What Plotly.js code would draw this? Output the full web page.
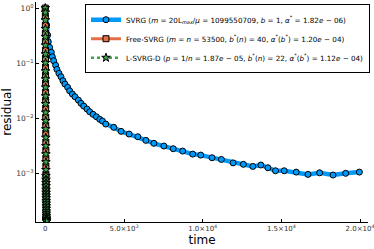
<!DOCTYPE html>
<html><head><meta charset="utf-8">
<script src="https://cdn.plot.ly/plotly-3.0.1.min.js"></script>
<style>html,body{margin:0;padding:0;background:#fff}#chart{width:374px;height:249px}</style>
</head><body><div id="chart"></div>
<script>
const svrgTime = [0, 83, 146, 191, 274, 382, 446, 529, 656, 739, 866, 994, 1121, 1248, 1420, 1548, 1720, 1885, 2102, 2268, 2439, 2650, 2822, 3032, 3248, 3459, 3631, 3841, 4350, 4815, 5325, 5879, 6389, 6898, 7535, 8127, 8726, 9363, 9873, 10592, 11185, 11930, 12586, 13185, 13694, 14140, 14624, 15178, 15943, 16688, 17427, 18280, 19083, 19955];
const svrgRes = [1, 0.491, 0.323, 0.244, 0.193, 0.157, 0.130, 0.110, 0.0908, 0.0768, 0.0650, 0.0564, 0.0477, 0.0415, 0.0362, 0.0313, 0.0273, 0.0244, 0.0212, 0.0185, 0.0165, 0.0146, 0.0130, 0.0117, 0.01056, 0.00947, 0.00882, 0.00778, 0.00678, 0.00573, 0.00512, 0.00457, 0.00393, 0.00347, 0.00310, 0.00277, 0.00251, 0.00221, 0.00212, 0.00190, 0.00177, 0.00153, 0.00144, 0.00132, 0.00140, 0.00125, 0.00110, 0.00110, 0.00104, 0.000946, 0.00101, 0.000920, 0.000988, 0.00104];

const freeTime = [0, 2, 4, 6, 8, 10, 12, 14, 16, 18, 20, 22, 24, 26, 28, 30, 32, 34, 36, 38, 40, 42, 44, 46, 48, 50, 52, 54, 56, 58, 60, 62, 64, 66, 68, 70, 72, 74, 76, 78, 80];
const freeRes = [1, 0.716, 0.491, 0.351, 0.251, 0.172, 0.123, 0.0846, 0.0605, 0.0433, 0.0297, 0.0212, 0.0152, 0.0104, 0.00746, 0.00534, 0.00366, 0.00262, 0.00187, 0.00134, 0.00096, 0.00082, 0.00071, 0.00062, 0.00054, 0.00047, 0.00042, 0.00037, 0.00033, 0.00029, 0.00026, 0.000235, 0.00021, 0.00019, 0.000175, 0.000162, 0.000152, 0.000145, 0.00014, 0.000136, 0.000134];

const lsvrgTime = [0, 2, 4, 6, 8, 10, 12, 14, 16, 18, 20, 22, 24, 26, 28, 30, 32, 34, 36, 38, 40, 42, 44, 46, 48, 50, 52, 54, 56, 58, 60, 62, 64, 66, 68, 70, 72, 74, 76, 78, 80];
const lsvrgRes = [1, 0.83, 0.60, 0.42, 0.30, 0.21, 0.145, 0.101, 0.071, 0.051, 0.036, 0.025, 0.018, 0.0126, 0.0089, 0.0063, 0.0044, 0.0031, 0.0022, 0.00158, 0.00114, 0.00089, 0.00076, 0.00066, 0.00058, 0.00050, 0.00044, 0.00039, 0.00035, 0.00031, 0.00028, 0.00025, 0.000225, 0.000202, 0.000184, 0.000168, 0.000156, 0.000147, 0.00014, 0.000135, 0.000132];

const seriesNames = [
  'SVRG (<i>m</i> = 20L<sub><i>max</i></sub>/<i>μ</i> = 1099550709, <i>b</i> = 1, <i>α</i><sup>*</sup> = 1.82<i>e</i> − 06)',
  'Free-SVRG (<i>m</i> = <i>n</i> = 53500, <i>b</i><sup>*</sup>(<i>n</i>) = 40, <i>α</i><sup>*</sup>(<i>b</i><sup>*</sup>) = 1.20<i>e</i> − 04)',
  'L-SVRG-D (<i>p</i> = 1/<i>n</i> = 1.87<i>e</i> − 05, <i>b</i><sup>*</sup>(<i>n</i>) = 22, <i>α</i><sup>*</sup>(<i>b</i><sup>*</sup>) = 1.12<i>e</i> − 04)'
];

const xTickVals = [0, 5000, 10000, 15000, 20000];
const xTickText = ['0', '5.0×10<sup>3</sup>', '1.0×10<sup>4</sup>', '1.5×10<sup>4</sup>', '2.0×10<sup>4</sup>'];
const yTickVals = [1, 0.1, 0.01, 0.001];
const yTickText = ['10<sup>0</sup>', '10<sup>−1</sup>', '10<sup>−2</sup>', '10<sup>−3</sup>'];

const traces = [
  {x: svrgTime, y: svrgRes, name: seriesNames[0], mode: 'lines+markers', type: 'scatter',
   line: {color: 'rgb(0,154,250)', width: 4.5},
   marker: {symbol: 'circle', size: 6, color: 'rgb(0,154,250)', line: {color: '#000', width: 1}}},
  {x: freeTime, y: freeRes, name: seriesNames[1], mode: 'lines+markers', type: 'scatter',
   line: {color: 'rgb(227,111,71)', width: 3},
   marker: {symbol: 'square', size: 6, color: 'rgb(227,111,71)', line: {color: '#000', width: 1}}},
  {x: lsvrgTime, y: lsvrgRes, name: seriesNames[2], mode: 'lines+markers', type: 'scatter',
   line: {color: 'rgb(62,164,78)', width: 2.5, dash: 'dot'},
   marker: {symbol: 'star', size: 6.5, color: 'rgb(62,164,78)', line: {color: '#000', width: 1}}}
];

const layout = {
  width: 374, height: 249,
  margin: {l: 36, r: 6, t: 2, b: 27},
  paper_bgcolor: '#fff', plot_bgcolor: '#fff',
  font: {family: 'DejaVu Sans, sans-serif', color: '#000'},
  showlegend: true,
  legend: {x: 1.006, xanchor: 'right', y: 0.99, yanchor: 'top',
    bgcolor: '#fff', bordercolor: '#000', borderwidth: 1,
    font: {size: 7.2, family: 'DejaVu Sans, sans-serif', color: '#000'},
    itemwidth: 30, tracegroupgap: 0},
  xaxis: {range: [-591, 20502], tickvals: xTickVals, ticktext: xTickText,
    ticks: 'inside', ticklen: 3, tickcolor: '#000', showgrid: false, zeroline: false,
    showline: true, linecolor: '#000', linewidth: 1, mirror: false,
    ticklabeloverflow: 'allow',
    tickfont: {size: 7, color: '#333'},
    title: {text: 'time', font: {size: 12}, standoff: 2}},
  yaxis: {type: 'log', range: [-3.89, 0.11], tickvals: yTickVals, ticktext: yTickText,
    ticks: 'inside', ticklen: 3, tickcolor: '#000', showgrid: false, zeroline: false,
    showline: true, linecolor: '#000', linewidth: 1, mirror: false,
    tickfont: {size: 7.5, color: '#333'},
    title: {text: 'residual', font: {size: 12}, standoff: 4}}
};

Plotly.newPlot('chart', traces, layout, {displayModeBar: false, staticPlot: true});
</script></body></html>
